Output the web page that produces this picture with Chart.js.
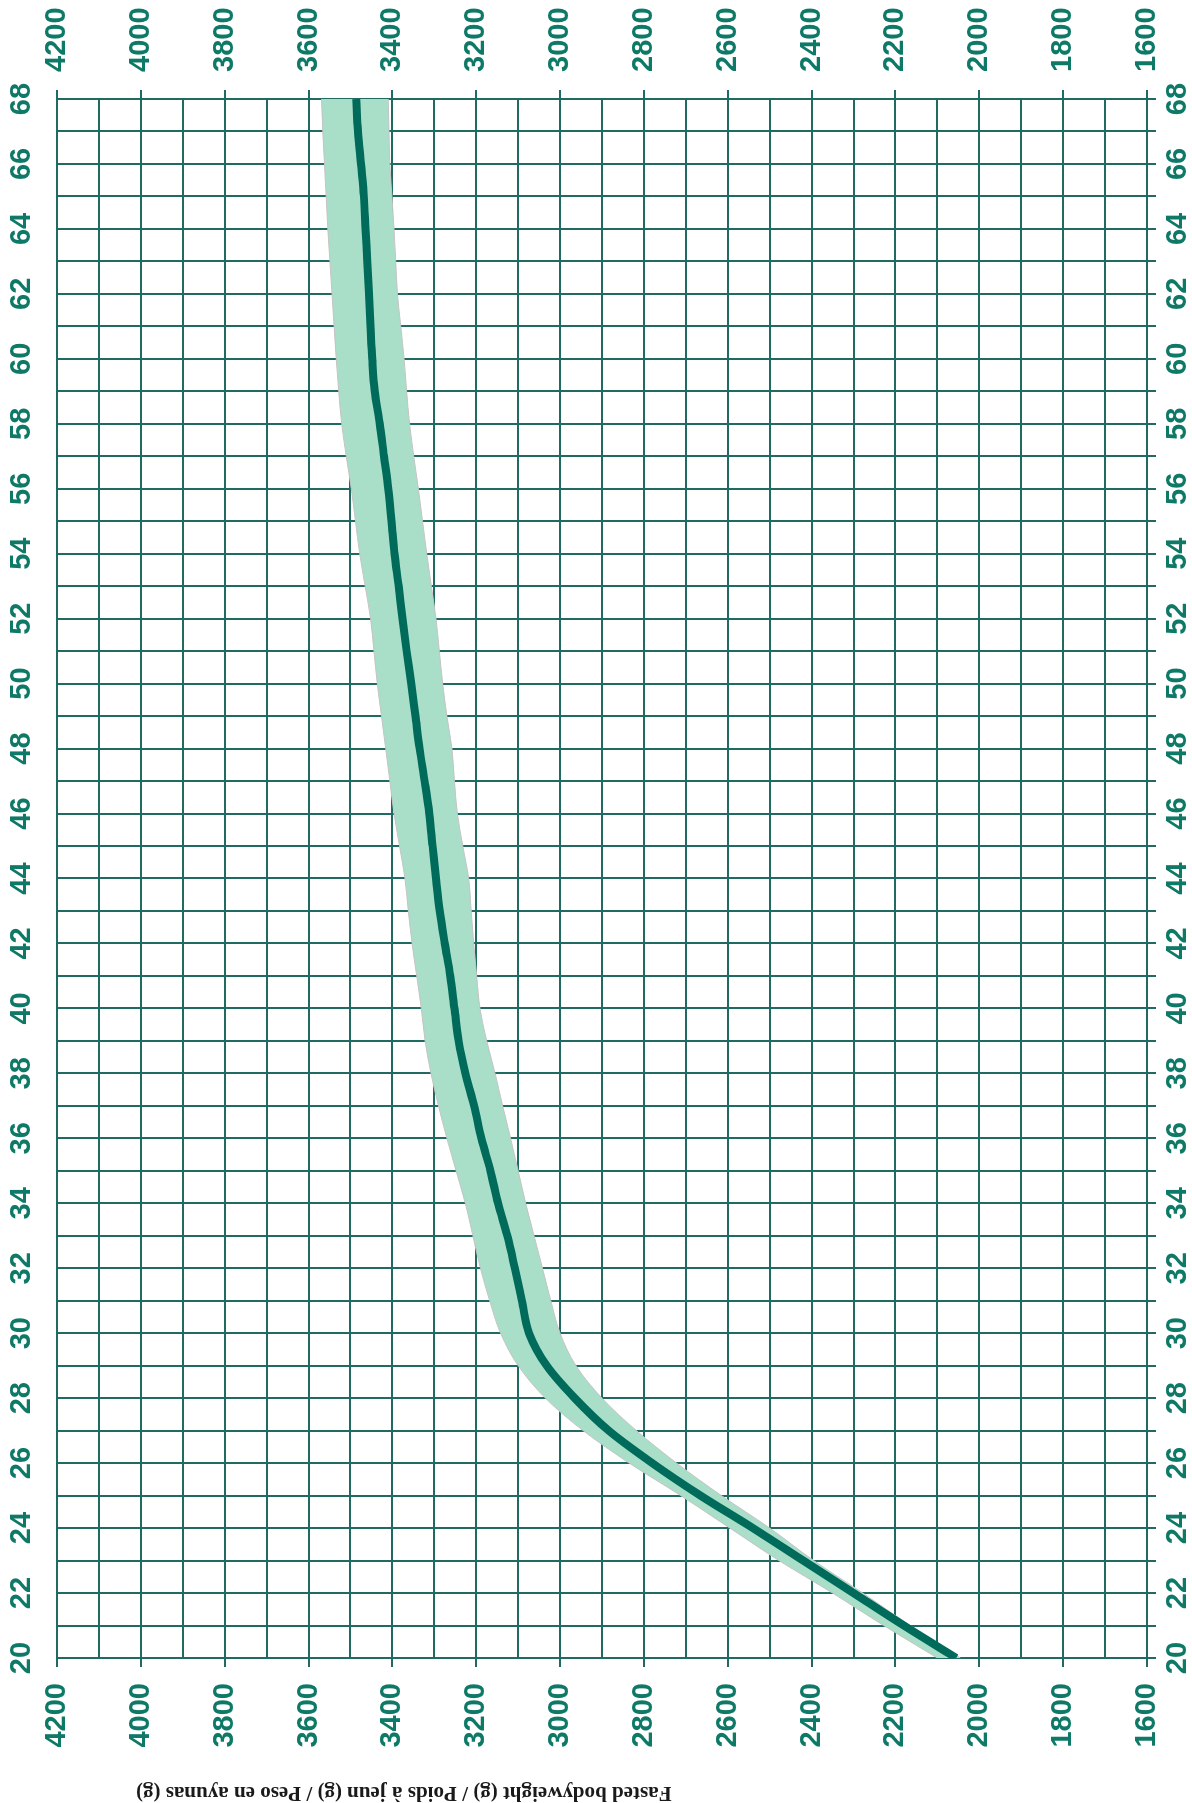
<!DOCTYPE html>
<html>
<head>
<meta charset="utf-8">
<title>Fasted bodyweight</title>
<script src="https://cdn.jsdelivr.net/npm/chart.js@4/dist/chart.umd.min.js"></script>
<style>
  html, body { margin: 0; padding: 0; background: #fff; overflow: hidden; }
  /* chart is drawn landscape, then turned a quarter left like the printed sheet */
  #wrap {
    position: absolute; left: 0; top: 0;
    width: 1803px; height: 1192px;
    transform-origin: 0 0;
    transform: translateY(1803px) rotate(-90deg);
  }
  canvas { display: block; }
</style>
</head>
<body>
<div id="wrap"><canvas id="bodyweightChart" width="1803" height="1192"></canvas></div>
<script>
// age in weeks
const weeks = [20, 21, 22, 23, 24, 25, 26, 27, 28, 29, 30, 31, 32, 33, 34, 35, 36, 37, 38, 39,
               40, 41, 42, 43, 44, 45, 46, 47, 48, 49, 50, 51, 52, 53, 54, 55, 56, 57, 58, 59,
               60, 61, 62, 63, 64, 65, 66, 67, 68];

// target fasted bodyweight (g)
const targetWeight = [2055, 2180, 2300, 2420, 2540, 2665, 2780, 2884, 2965, 3032,
                      3074, 3091, 3108, 3126, 3148, 3166, 3188, 3205, 3226, 3242,
                      3252, 3262, 3275, 3287, 3296, 3304, 3312, 3323, 3335, 3345,
                      3355, 3366, 3376, 3385, 3395, 3402, 3410, 3420, 3430, 3442,
                      3448, 3452, 3456, 3460, 3464, 3468, 3475, 3482, 3486];

// shaded range, top and bottom
const upperWeight = [2100, 2228, 2350, 2478, 2595, 2712, 2835, 2945, 3035, 3100,
                     3142, 3168, 3190, 3208, 3226, 3248, 3270, 3290, 3308, 3322,
                     3331, 3342, 3353, 3362, 3370, 3383, 3396, 3406, 3416, 3426,
                     3436, 3444, 3452, 3465, 3478, 3488, 3498, 3510, 3521, 3528,
                     3534, 3539, 3544, 3549, 3554, 3558, 3562, 3566, 3569];

const lowerWeight = [2045, 2165, 2278, 2395, 2500, 2615, 2722, 2818, 2900, 2962,
                     3000, 3022, 3042, 3062, 3082, 3100, 3118, 3137, 3155, 3175,
                     3191, 3199, 3206, 3212, 3218, 3232, 3245, 3252, 3258, 3270,
                     3280, 3288, 3296, 3307, 3318, 3328, 3338, 3349, 3359, 3366,
                     3372, 3380, 3388, 3392, 3396, 3401, 3406, 3408, 3410];

const weightMin = 1600;
const weightMax = 4200;
const axisTitle = "Fasted bodyweight (g) / Poids à jeun (g) / Peso en ayunas (g)";

const gridColor = "#1f6b62";
const labelColor = "#0e7966";
const tickFont = { family: "'Liberation Sans', Arial, Helvetica, sans-serif", size: 29, weight: "bold" };

function points(values) {
    return weeks.map((w, i) => ({ x: w, y: values[i] }));
}

function evenWeek(v) { return v % 2 === 0 ? v : ""; }
function majorWeight(v) { return v % 200 === 0 ? v : ""; }
function majorTick(ctx) { return ctx.tick && ctx.tick.value % 200 === 0 ? gridColor : "rgba(0,0,0,0)"; }

// y-axis caption, placed toward the top like the original
const sideTitle = {
    id: "sideTitle",
    afterDraw(chart) {
        const ctx = chart.ctx;
        ctx.save();
        ctx.translate(16, 136);
        ctx.rotate(-Math.PI / 2);
        ctx.font = "bold 21px 'Liberation Serif', 'Times New Roman', serif";
        ctx.fillStyle = "#1a1a1a";
        ctx.textAlign = "right";
        ctx.textBaseline = "alphabetic";
        ctx.fillText(axisTitle, 0, 0);
        ctx.restore();
    }
};

const ctx = document.getElementById("bodyweightChart").getContext("2d");
new Chart(ctx, {
    type: "line",
    data: {
        datasets: [
            {
                label: "Target",
                data: points(targetWeight),
                borderColor: "#006b5a",
                borderWidth: 8,
                pointRadius: 0,
                cubicInterpolationMode: "monotone",
                fill: false,
                order: 0
            },
            {
                label: "Upper",
                data: points(upperWeight),
                borderColor: "#c4c4c4",
                borderWidth: 1,
                pointRadius: 0,
                cubicInterpolationMode: "monotone",
                fill: false,
                order: 1
            },
            {
                label: "Lower",
                data: points(lowerWeight),
                borderColor: "#c4c4c4",
                borderWidth: 1,
                pointRadius: 0,
                cubicInterpolationMode: "monotone",
                backgroundColor: "#a9dfc9",
                fill: "-1",
                order: 2
            }
        ]
    },
    options: {
        responsive: false,
        animation: false,
        layout: { padding: 0 },
        plugins: {
            legend: { display: false },
            tooltip: { enabled: false }
        },
        scales: {
            x: {
                type: "linear",
                position: "bottom",
                min: 20,
                max: 68,
                z: 1,
                afterFit(scale) { scale.height = 45; },
                border: { display: true, color: gridColor, width: 2 },
                grid: { color: gridColor, lineWidth: 2, tickLength: 9, tickColor: gridColor },
                ticks: { stepSize: 1, autoSkip: false, maxRotation: 0, padding: 5,
                         color: labelColor, font: tickFont, callback: evenWeek }
            },
            xTop: {
                type: "linear",
                position: "top",
                min: 20,
                max: 68,
                afterFit(scale) { scale.height = 57; },
                border: { display: false },
                grid: { display: false, drawTicks: false },
                ticks: { stepSize: 1, autoSkip: false, maxRotation: 0, padding: 18,
                         color: labelColor, font: tickFont, callback: evenWeek }
            },
            y: {
                type: "linear",
                position: "left",
                min: weightMin,
                max: weightMax,
                z: 1,
                afterFit(scale) { scale.width = 145; },
                border: { display: true, color: gridColor, width: 2 },
                grid: { color: gridColor, lineWidth: 2, tickLength: 9, tickColor: majorTick },
                ticks: { stepSize: 100, autoSkip: false, padding: 16,
                         color: labelColor, font: tickFont, callback: majorWeight }
            },
            yRight: {
                type: "linear",
                position: "right",
                min: weightMin,
                max: weightMax,
                afterFit(scale) { scale.width = 99; },
                border: { display: true, color: gridColor, width: 2 },
                grid: { drawOnChartArea: false, lineWidth: 2, tickLength: 9, tickColor: majorTick },
                ticks: { stepSize: 100, autoSkip: false, padding: 18,
                         color: labelColor, font: tickFont, callback: majorWeight }
            }
        }
    },
    plugins: [sideTitle]
});
</script>
</body>
</html>
